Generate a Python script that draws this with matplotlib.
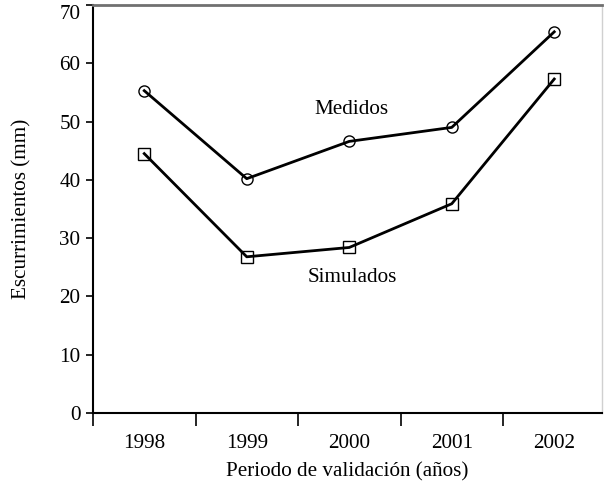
"""
    escurrimientos medidos vs simulados, periodo de validacion
"""

import numpy as np
import matplotlib
matplotlib.use('Agg')
import matplotlib.pyplot as plt

years = ['1998', '1999', '2000', '2001', '2002']
medidos = [55.3, 40.2, 46.6, 49.0, 65.4]
simulados = [44.5, 26.8, 28.4, 35.9, 57.3]

plt.rcParams['font.family'] = ['Liberation Serif', 'DejaVu Serif']
FS = 15.2

fig = plt.figure(figsize=(6.05, 4.88), dpi=100)
# axes box in figure fractions (left spine x=93px, bottom y=413px, top y=5px)
ax = fig.add_axes([93/605, (488-413)/488, (602-93)/605, (413-5)/488])

x = np.arange(len(years))
ax.plot(x, medidos, 'k-', lw=2, marker='o', ms=8, mfc='none', mec='k', mew=1.0)
ax.plot(x, simulados, 'k-', lw=2, marker='s', ms=8, mfc='none', mec='k', mew=1.0)

ax.text(2.02, 52.0, 'Medidos', ha='center', va='center', fontsize=FS)
ax.text(2.03, 23.2, 'Simulados', ha='center', va='center', fontsize=FS)

ax.set_ylim(0, 70)
ax.set_yticks(np.arange(0, 71, 10))
ax.set_xlim(-0.5, (602-93)/102.5 - 0.5)

# category axis: ticks between the years, labels at the centres
ax.set_xticks(np.arange(-0.5, 4.0, 1.0))
ax.set_xticklabels([])
ax.set_xticks(x, minor=True)
ax.set_xticklabels(years, minor=True, fontsize=FS)
ax.tick_params(axis='x', which='major', direction='out', length=9, width=1.2)
ax.tick_params(axis='x', which='minor', length=0, pad=15)
ax.tick_params(axis='y', direction='out', length=5, width=1.2, labelsize=FS, pad=4)

# top label sits just under its tick, as in the original (kept inside the figure)
ax.get_yticklabels()[-1].set_va('top')

ax.spines['left'].set_linewidth(1.5)
ax.spines['bottom'].set_linewidth(1.5)
ax.spines['top'].set_color('#707070')
ax.spines['top'].set_linewidth(2)
ax.spines['right'].set_color('#d0d0d0')
ax.spines['right'].set_linewidth(1)

ax.set_ylabel('Escurrimientos (mm)', fontsize=FS, labelpad=20)
ax.set_xlabel('Periodo de validación (años)', fontsize=FS, labelpad=7)

plt.savefig('out.png', dpi=100)
